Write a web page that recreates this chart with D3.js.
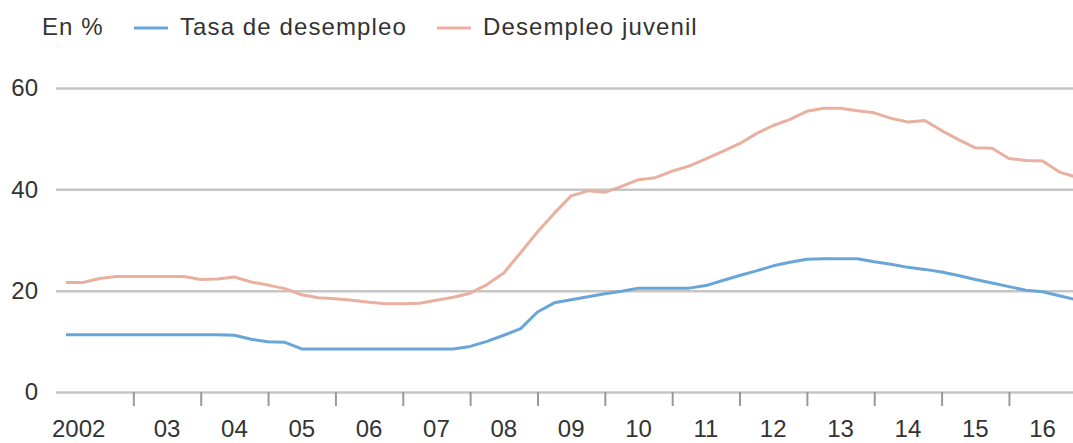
<!DOCTYPE html>
<html>
<head>
<meta charset="utf-8">
<script src="https://cdn.jsdelivr.net/npm/d3@7"></script>
<style>
  body { margin: 0; background: #fff; }
  svg { display: block; font-family: "Liberation Sans", Arial, sans-serif; }
</style>
</head>
<body>
<div id="chart"></div>
<script>
const w = 1073;
const h = 443;

// quarterly values, first point = 2002 T1
const startYear = 2002;
const tasaDesempleo = [
    11.3, 11.3, 11.3, 11.3, 11.3, 11.3, 11.3, 11.3, 11.3, 11.3,
    11.2, 10.4, 9.9, 9.8, 8.5, 8.5, 8.5, 8.5, 8.5, 8.5,
    8.5, 8.5, 8.5, 8.5, 9.0, 10.0, 11.2, 12.5, 15.8, 17.6,
    18.2, 18.8, 19.4, 19.9, 20.5, 20.5, 20.5, 20.5, 21.0, 22.0,
    23.0, 23.9, 24.9, 25.6, 26.2, 26.3, 26.3, 26.3, 25.7, 25.2,
    24.6, 24.2, 23.7, 23.0, 22.2, 21.5, 20.8, 20.1, 19.8, 19.0,
    18.2
];
const desempleoJuvenil = [
    21.6, 21.6, 22.4, 22.8, 22.8, 22.8, 22.8, 22.8, 22.2, 22.3,
    22.7, 21.7, 21.1, 20.4, 19.2, 18.6, 18.4, 18.1, 17.7, 17.4,
    17.4, 17.5, 18.1, 18.7, 19.5, 21.2, 23.5, 27.5, 31.6, 35.3,
    38.7, 39.7, 39.4, 40.6, 41.9, 42.3, 43.6, 44.6, 46.0, 47.5,
    49.0, 51.0, 52.6, 53.8, 55.4, 56.0, 56.0, 55.5, 55.1, 54.0,
    53.3, 53.6, 51.6, 49.8, 48.2, 48.1, 46.1, 45.7, 45.6, 43.4,
    42.4
];
const yearLabels = ["2002", "03", "04", "05", "06", "07", "08", "09",
    "10", "11", "12", "13", "14", "15", "16"];
const yTicks = [0, 20, 40, 60];
const seriesNames = ["Tasa de desempleo", "Desempleo juvenil"];
const seriesColors = ["#6aa5d7", "#e9b0a0"];

const x = d3.scaleLinear()
    .domain([startYear, startYear + 15])
    .range([66, 1076.3]);

const y = d3.scaleLinear()
    .domain([0, 60])
    .range([392, 88]);

const svg = d3.select("#chart")
    .append("svg")
    .attr("width", w)
    .attr("height", h);

// gridlines + y labels
const yAxis = svg.append("g")
    .attr("transform", "translate(56,0)")
    .call(d3.axisLeft(y).tickValues(yTicks).tickSize(-(w - 56)).tickPadding(18));
yAxis.select(".domain").remove();
yAxis.selectAll(".tick line")
    .attr("stroke", "#c6c6c6")
    .attr("stroke-width", 2.5);
yAxis.selectAll(".tick text")
    .attr("fill", "#333")
    .style("font-size", "24px")
    .style("font-family", "Liberation Sans, Arial, sans-serif");

// year ticks
const xAxis = svg.append("g")
    .attr("transform", "translate(0," + y(0) + ")")
    .call(d3.axisBottom(x).tickValues(d3.range(startYear + 1, startYear + 15)).tickSize(14).tickFormat(""));
xAxis.select(".domain").remove();
xAxis.selectAll(".tick line")
    .attr("stroke", "#999")
    .attr("stroke-width", 2);

svg.selectAll("text.year")
    .data(yearLabels)
    .enter()
    .append("text")
    .attr("class", "year")
    .attr("x", function(d, i) {
        return i == 0 ? x(startYear) - 14 : x(startYear + i + 0.5);
    })
    .attr("y", 437)
    .attr("text-anchor", function(d, i) { return i == 0 ? "start" : "middle"; })
    .attr("fill", "#333")
    .style("font-size", "24px")
    .text(function(d) { return d; });

const line = d3.line()
    .x(function(d, i) { return x(startYear + i / 4); })
    .y(function(d) { return y(d); });

[tasaDesempleo, desempleoJuvenil].forEach(function(values, k) {
    svg.append("path")
        .datum(values)
        .attr("fill", "none")
        .attr("stroke", seriesColors[k])
        .attr("stroke-width", 3)
        .attr("stroke-linejoin", "round")
        .attr("d", line);
});

// legend
svg.append("text")
    .attr("x", 42)
    .attr("y", 35)
    .attr("fill", "#333")
    .style("font-size", "24px")
    .style("letter-spacing", "1.1px")
    .text("En %");

const legendX = [134, 437];
seriesNames.forEach(function(name, k) {
    svg.append("line")
        .attr("x1", legendX[k])
        .attr("x2", legendX[k] + 34)
        .attr("y1", 28)
        .attr("y2", 28)
        .attr("stroke", seriesColors[k])
        .attr("stroke-width", 3);
    svg.append("text")
        .attr("x", legendX[k] + 46)
        .attr("y", 35)
        .attr("fill", "#333")
        .style("font-size", "24px")
        .style("letter-spacing", "1.1px")
        .text(name);
});
</script>
</body>
</html>
